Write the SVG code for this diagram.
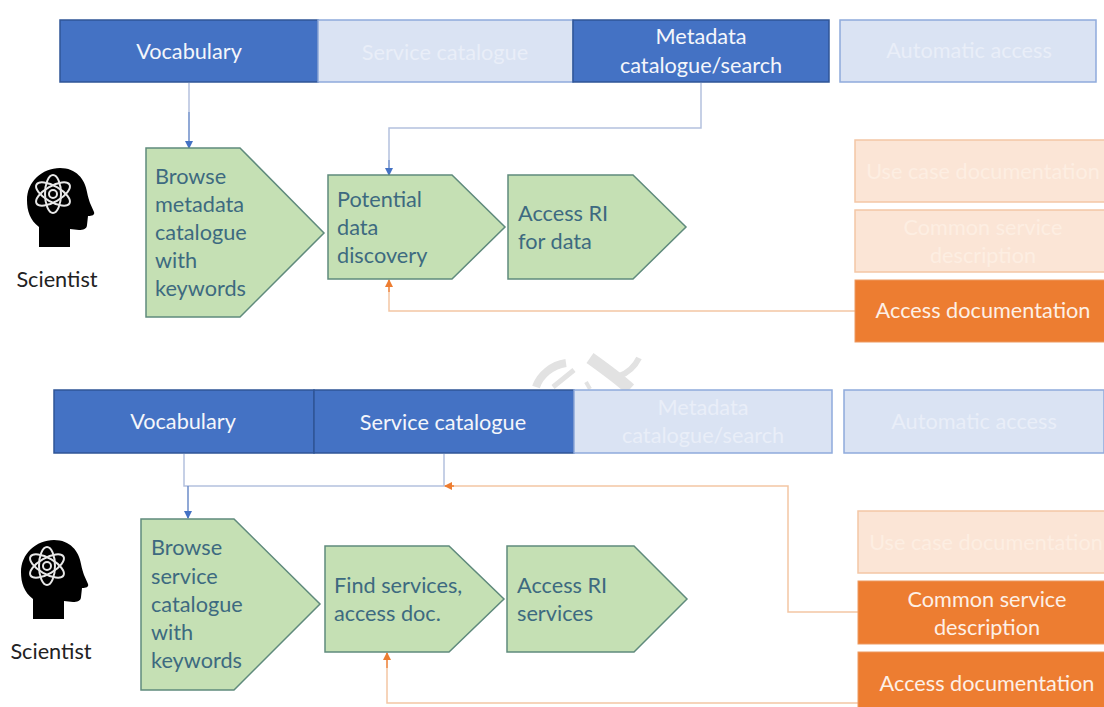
<svg xmlns="http://www.w3.org/2000/svg" width="1104" height="707" viewBox="0 0 1104 707">
<style>
text{font-family:Lato,"Open Sans","Liberation Sans",sans-serif;font-size:21.7px}
.m{text-anchor:middle}
.on{fill:#4472c4;stroke:#2f5597;stroke-width:1.5}
.off{fill:#dae3f3;stroke:#8faadc;stroke-width:1.5}
.wt{fill:#f4f6fb}
.ft{fill:#e9eef8}
.peach{fill:#fbe5d6;stroke:#f4c6a5;stroke-width:1.5}
.or{fill:#ed7d31;stroke:#ed9a60;stroke-width:1}
.ot{fill:#fdf0e6}
.pt{fill:#fdeee2}
.g{fill:#c5e0b4;stroke:#5f8a7c;stroke-width:1.5}
.gt{fill:#3d6a80}
.k{fill:#222}
.lb{fill:none;stroke:#b4c1de;stroke-width:1.5}
.lo{fill:none;stroke:#f3c6a4;stroke-width:1.5}
.ab{fill:none;stroke:#6d8cc9;stroke-width:1.5}
</style>
<defs>
<marker id="ba" markerWidth="8" markerHeight="8" refX="7" refY="4" orient="auto" markerUnits="userSpaceOnUse"><path d="M0 0L8 4L0 8Z" fill="#4472c4"/></marker>
<marker id="oa" markerWidth="8" markerHeight="8" refX="7" refY="4" orient="auto" markerUnits="userSpaceOnUse"><path d="M0 0L8 4L0 8Z" fill="#ed7d31"/></marker>
<g id="head">
<path d="M-13 41V21C-22 14-25 5-25-6C-25-24-10-38 8-38C24-38 33-27 35-14C36-9 37-6 38-3L42 6C43 9 40 10 36 10L35 19C35 23 31 24 27 24L18 23V41Z" fill="#000"/>
<g fill="none" stroke="#e8e8e8" stroke-width="2">
<ellipse cx="1" cy="-12" rx="19" ry="8" transform="rotate(30 1 -12)"/>
<ellipse cx="1" cy="-12" rx="19" ry="8" transform="rotate(-30 1 -12)"/>
<ellipse cx="1" cy="-12" rx="8" ry="19"/>
<circle cx="1" cy="-12" r="4"/>
</g>
</g>
</defs>
<rect width="1104" height="707" fill="#fff"/>
<g id="watermark" fill="none" stroke="#e2e2e2">
<path d="M536 387C540 375 552 365 566 363" stroke-width="8"/>
<path d="M553 387L574 370" stroke-width="5"/>
<path d="M590 358C604 368 618 378 630 389" stroke-width="12"/>
<path d="M586 382L590 389" stroke-width="4"/>
<path d="M619 376C628 373 635 366 639 358" stroke-width="6"/>
</g>
<g id="connectors">
<path class="lb" d="M189 83V112"/>
<path class="ab" d="M189 112V148" marker-end="url(#ba)"/>
<path class="lb" d="M701 83V128H389V160"/>
<path class="ab" d="M389 160V175" marker-end="url(#ba)"/>
<path class="lo" d="M855 311H389V292"/>
<path d="M389 292V280" fill="none" stroke="#ed7d31" stroke-width="1.5" marker-end="url(#oa)"/>
<path class="lb" d="M184 454V486H444V454"/>
<path class="ab" d="M188 486V518" marker-end="url(#ba)"/>
<path class="lo" d="M858 612H788V486H452"/>
<path d="M454 486H445" fill="none" stroke="#ed7d31" stroke-width="1.5" marker-end="url(#oa)"/>
<path class="lo" d="M858 703H387V668"/>
<path d="M387 668V653" fill="none" stroke="#ed7d31" stroke-width="1.5" marker-end="url(#oa)"/>
</g>
<g id="scientist-1"><use href="#head" x="52" y="206"/><text class="k m" x="57" y="287">Scientist</text></g>
<g id="top-vocabulary"><rect class="on" x="60" y="20" width="258" height="62"/><text class="wt m" x="189" y="59">Vocabulary</text></g>
<g id="top-service"><rect class="off" x="318" y="20" width="255" height="62"/><text class="ft m" x="445" y="60">Service catalogue</text></g>
<g id="top-metadata"><rect class="on" x="573" y="20" width="256" height="62"/><text class="wt m" x="701" y="44">Metadata</text><text class="wt m" x="701" y="73">catalogue/search</text></g>
<g id="top-automatic"><rect class="off" x="840" y="20" width="256" height="62"/><text class="ft m" x="969" y="58">Automatic access</text></g>
<g id="browse-metadata"><path class="g" d="M146 148H240L324 233L240 317H146Z"/><text class="gt" x="155" y="184">Browse</text><text class="gt" x="155" y="212">metadata</text><text class="gt" x="155" y="240">catalogue</text><text class="gt" x="155" y="268">with</text><text class="gt" x="155" y="296">keywords</text></g>
<g id="potential"><path class="g" d="M328 175H452L505 227L452 279H328Z"/><text class="gt" x="337" y="207">Potential</text><text class="gt" x="337" y="235">data</text><text class="gt" x="337" y="263">discovery</text></g>
<g id="access-data"><path class="g" d="M508 175H633L686 227L633 279H508Z"/><text class="gt" x="518" y="221">Access RI</text><text class="gt" x="518" y="249">for data</text></g>
<g id="usecase-1"><rect class="peach" x="855" y="140" width="255" height="62"/><text class="pt m" x="983" y="179">Use case documentation</text></g>
<g id="common-1"><rect class="peach" x="855" y="210" width="255" height="62"/><text class="pt m" x="983" y="235">Common service</text><text class="pt m" x="983" y="263">description</text></g>
<g id="accessdoc-1"><rect class="or" x="855" y="280" width="255" height="62"/><text class="ot m" x="983" y="318">Access documentation</text></g>
<g id="scientist-2"><use href="#head" x="46" y="578"/><text class="k m" x="51" y="659">Scientist</text></g>
<g id="bottom-vocabulary"><rect class="on" x="54" y="390" width="260" height="63"/><text class="wt m" x="183" y="429">Vocabulary</text></g>
<g id="bottom-service"><rect class="on" x="314" y="390" width="260" height="63"/><text class="wt m" x="443" y="430">Service catalogue</text></g>
<g id="bottom-metadata"><rect class="off" x="574" y="390" width="258" height="63"/><text class="ft m" x="703" y="415">Metadata</text><text class="ft m" x="703" y="443">catalogue/search</text></g>
<g id="bottom-automatic"><rect class="off" x="844" y="390" width="260" height="63"/><text class="ft m" x="974" y="429">Automatic access</text></g>
<g id="browse-service"><path class="g" d="M141 519H234L320 604L234 690H141Z"/><text class="gt" x="151" y="555">Browse</text><text class="gt" x="151" y="584">service</text><text class="gt" x="151" y="612">catalogue</text><text class="gt" x="151" y="640">with</text><text class="gt" x="151" y="668">keywords</text></g>
<g id="find-services"><path class="g" d="M325 546H449L504 599L449 652H325Z"/><text class="gt" x="334" y="593">Find services,</text><text class="gt" x="334" y="621">access doc.</text></g>
<g id="access-services"><path class="g" d="M507 546H634L687 599L634 652H507Z"/><text class="gt" x="517" y="593">Access RI</text><text class="gt" x="517" y="621">services</text></g>
<g id="usecase-2"><rect class="peach" x="858" y="511" width="255" height="62"/><text class="pt m" x="986" y="550">Use case documentation</text></g>
<g id="common-2"><rect class="or" x="858" y="581" width="255" height="63"/><text class="ot m" x="987" y="607">Common service</text><text class="ot m" x="987" y="635">description</text></g>
<g id="accessdoc-2"><rect class="or" x="858" y="652" width="255" height="62"/><text class="ot m" x="987" y="691">Access documentation</text></g>
</svg>
